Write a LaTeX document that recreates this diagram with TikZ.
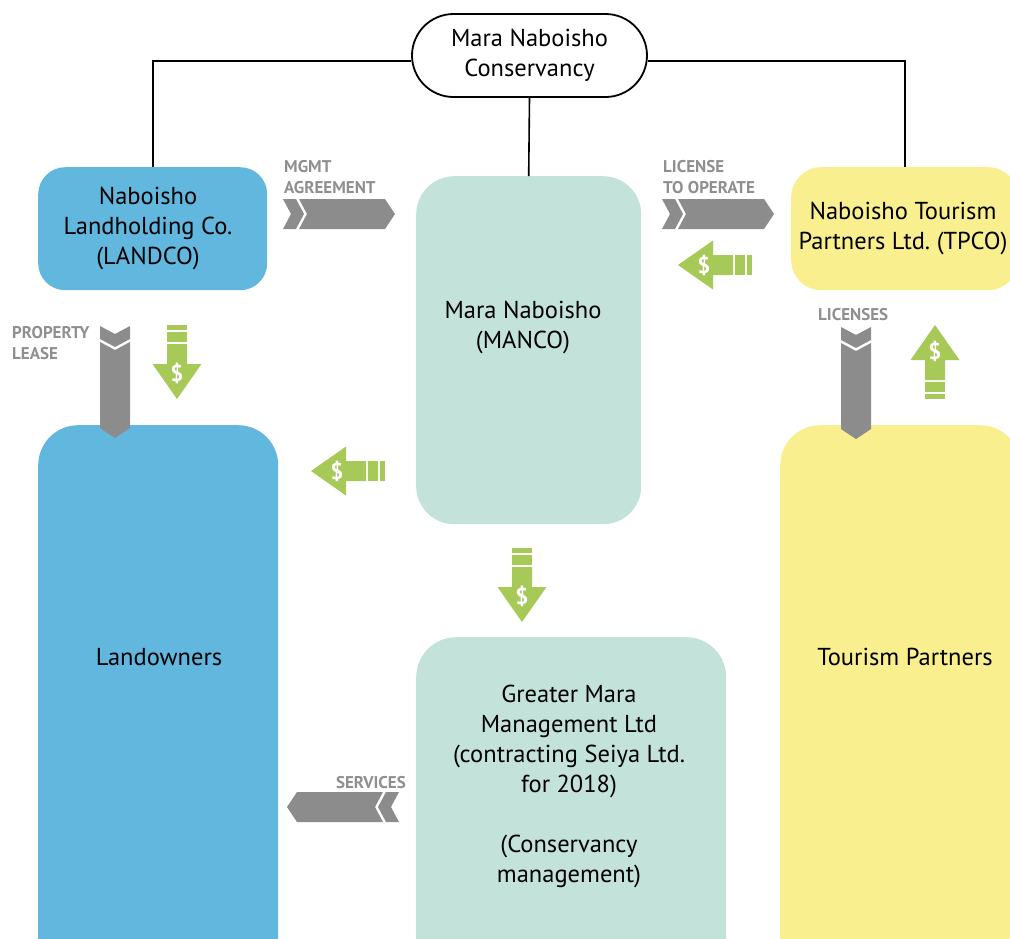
\documentclass[tikz,border=0pt]{standalone}
\usepackage{fontspec}
\setmainfont{PT Sans}
\frenchspacing
\usetikzlibrary{shapes.misc}
\definecolor{boxblue}{HTML}{62B7DF}
\definecolor{boxteal}{HTML}{C3E2D9}
\definecolor{boxyellow}{HTML}{F9EF8E}
\definecolor{dgreen}{HTML}{A6C958}
\definecolor{arrowgray}{HTML}{8C8C8C}
\definecolor{labelgray}{HTML}{8F8F8F}
\tikzset{
  box/.style={inner sep=0pt, anchor=north west, draw=none},
  maintext/.style={font=\fontsize{24.5}{30}\selectfont, align=center, text=black},
  lbl/.style={font=\fontsize{17}{21}\selectfont\bfseries, text=labelgray, inner sep=0pt},
  conn/.style={draw=black, line width=1.6pt},
  pill/.style={rounded rectangle, draw=black, line width=1.8pt, fill=white,
    minimum width=235pt, minimum height=83pt, inner sep=0pt, maintext},
  chevarrow/.pic={
    \fill[arrowgray] (0,-15) -- (13,-15) -- (21,0) -- (13,15) -- (0,15) -- (8,0) -- cycle;
    \fill[arrowgray] (16,-15) -- (102,-15) -- (112,0) -- (102,15) -- (16,15) -- (24,0) -- cycle;
  },
  dollararrow/.pic={
    \fill[dgreen] (0,-10) rectangle (5,10);
    \fill[dgreen] (7,-10) rectangle (17,10);
    \fill[dgreen] (19,-10) -- (39,-10) -- (39,-24.5) -- (74,0) -- (39,24.5) -- (39,10) -- (19,10) -- cycle;
    \node[text=white, font=\fontsize{23}{23}\selectfont\bfseries, inner sep=0pt] (-s) at (48,0) {\$};
  }
}
\begin{document}
\begin{tikzpicture}[x=1pt,y=-1pt]
\useasboundingbox (0,0) rectangle (1010,938);
\clip (0,0) rectangle (1010,938);

% boxes
\node[box, fill=boxblue, minimum width=229pt, minimum height=123pt, rounded corners=27pt] (landco) at (38,167) {};
\node[maintext] (landcot) at (148,228.5) {Naboisho\\Landholding Co.\\(LANDCO)};
\node[box, fill=boxteal, minimum width=225pt, minimum height=348pt, rounded corners=38pt] (manco) at (416,176) {};
\node[maintext] (mancot) at (523,327) {Mara Naboisho\\(MANCO)};
\node[box, fill=boxyellow, minimum width=227pt, minimum height=123pt, rounded corners=30pt] (tpco) at (791,167) {};
\node[maintext] (tpcot) at (903,228.5) {Naboisho Tourism\\Partners Ltd. (TPCO)};
\node[box, fill=boxblue, minimum width=240pt, minimum height=565pt, rounded corners=40pt] (land) at (38,425) {};
\node[maintext] (landt) at (159,657) {Landowners};
\node[box, fill=boxteal, minimum width=310pt, minimum height=353pt, rounded corners=40pt] (gmm) at (416,637) {};
\node[maintext] (gmmt) at (569,786) {Greater Mara\\Management Ltd\\(contracting Seiya Ltd.\\for 2018)\\[30pt](Conservancy\\management)};
\node[box, fill=boxyellow, minimum width=240pt, minimum height=565pt, rounded corners=40pt] (tour) at (780,425) {};
\node[maintext] (tourt) at (905,657) {Tourism Partners};

% top node and connectors
\node[pill] (top) at (529.5,55.5) {Mara Naboisho\\Conservancy};
\draw[conn] ([yshift=-5.5pt]top.west) -| (landco.north);
\draw[conn] ([yshift=-5.5pt]top.east) -| (tpco.north);
\draw[conn] (top.south) -- (manco.north);

% gray chevron arrows
\pic (mgmt) at (283,214) {chevarrow};
\pic (lic) at (662,214) {chevarrow};
\pic[rotate=-90] (lease) at (115,326) {chevarrow};
\pic[rotate=-90] (lics) at (856,327) {chevarrow};
\pic[rotate=180] (serv) at (399,807) {chevarrow};

% gray labels
\node[lbl, anchor=north west, align=left] (mgmtl) at (284,160) {MGMT\\AGREEMENT};
\node[lbl, anchor=north west, align=left] (licl) at (663,160) {LICENSE\\TO OPERATE};
\node[lbl, anchor=north west, align=left] (leasel) at (12,326) {PROPERTY\\LEASE};
\node[lbl, anchor=north west] (licsl) at (818,308) {LICENSES};
\node[lbl, anchor=north east] (servl) at (406,776) {SERVICES};

% green dollar arrows
\pic[rotate=-90] (d1) at (177,325) {dollararrow};
\pic[rotate=180] (d2) at (385,471) {dollararrow};
\pic[rotate=-90] (d3) at (522,548) {dollararrow};
\pic[rotate=180] (d4) at (752,265) {dollararrow};
\pic[rotate=90] (d5) at (935,399) {dollararrow};
\end{tikzpicture}
\end{document}
